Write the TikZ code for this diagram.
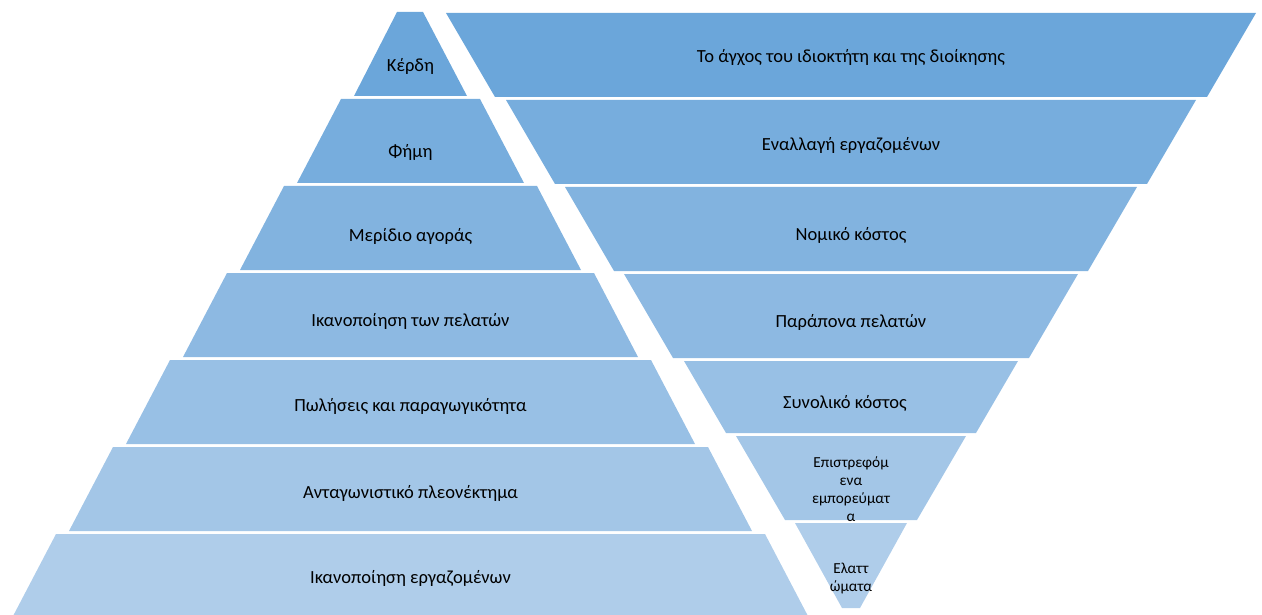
\documentclass[tikz,border=0pt]{standalone}
\usepackage{fontspec}
\setmainfont{Carlito}
\definecolor{topblue}{RGB}{107,166,218}
\definecolor{lowblue}{RGB}{175,205,234}
% one shade per layer, from the top layer down
\colorlet{layer0}{topblue}
\colorlet{layer1}{lowblue!17!topblue}
\colorlet{layer2}{lowblue!33!topblue}
\colorlet{layer3}{lowblue!50!topblue}
\colorlet{layer4}{lowblue!67!topblue}
\colorlet{layer5}{lowblue!83!topblue}
\colorlet{layer6}{lowblue}
\begin{document}
\begin{tikzpicture}[x=1pt,y=-1pt,
  lab/.style={font=\fontsize{18.5}{22}\selectfont, text=black, inner sep=0pt, align=center},
  smalllab/.style={font=\fontsize{15.3}{18}\selectfont, text=black, inner sep=0pt, align=center}]
\useasboundingbox (0,0) rectangle (1262,615);
% left pyramid, built upwards
\fill[layer0] (397,12) -- (423,12) -- (467,96) -- (354,96) -- cycle;
\fill[layer1] (341,99) -- (480,99) -- (524,183) -- (297,183) -- cycle;
\fill[layer2] (284,186) -- (537,186) -- (581,270) -- (240,270) -- cycle;
\fill[layer3] (227,273) -- (594,273) -- (638,357) -- (183,357) -- cycle;
\fill[layer4] (170,360) -- (651,360) -- (695,444) -- (126,444) -- cycle;
\fill[layer5] (113,447) -- (708,447) -- (752,531) -- (69,531) -- cycle;
\fill[layer6] (56,534) -- (765,534) -- (809,618) -- (12,618) -- cycle;
\node[lab] (l1) at (410.5,66) {Κέρδη};
\node[lab] (l2) at (410.5,152) {Φήμη};
\node[lab] (l3) at (410.5,236) {Μερίδιο αγοράς};
\node[lab] (l4) at (410.5,321) {Ικανοποίηση των πελατών};
\node[lab] (l5) at (410.5,406) {Πωλήσεις και παραγωγικότητα};
\node[lab] (l6) at (410.5,493) {Ανταγωνιστικό πλεονέκτημα};
\node[lab] (l7) at (410.5,578) {Ικανοποίηση εργαζομένων};
% right pyramid, turned upside down
\fill[layer0] (446,13) -- (1256,13) -- (1207,97) -- (495,97) -- cycle;
\fill[layer1] (506,100) -- (1196,100) -- (1147,184) -- (555,184) -- cycle;
\fill[layer2] (565,187) -- (1137,187) -- (1088,271) -- (614,271) -- cycle;
\fill[layer3] (624,274) -- (1078,274) -- (1029,358) -- (673,358) -- cycle;
\fill[layer4] (684,361) -- (1018,361) -- (976,433) -- (726,433) -- cycle;
\fill[layer5] (736,436) -- (966,436) -- (917,520) -- (785,520) -- cycle;
\fill[layer6] (795,523) -- (907,523) -- (860,608) -- (842,608) -- cycle;
\node[lab] (r1) at (851,58) {Το άγχος του ιδιοκτήτη και της διοίκησης};
\node[lab] (r2) at (851,145) {Εναλλαγή εργαζομένων};
\node[lab] (r3) at (851,235) {Νομικό κόστος};
\node[lab] (r4) at (851,322) {Παράπονα πελατών};
\node[lab] (r5) at (845,403) {Συνολικό κόστος};
\node[smalllab] (r6) at (851,489) {Επιστρεφόμ\\ενα\\εμπορεύματ\\α};
\node[smalllab] (r7) at (851,579) {Ελαττ\\ώματα};
\end{tikzpicture}
\end{document}
